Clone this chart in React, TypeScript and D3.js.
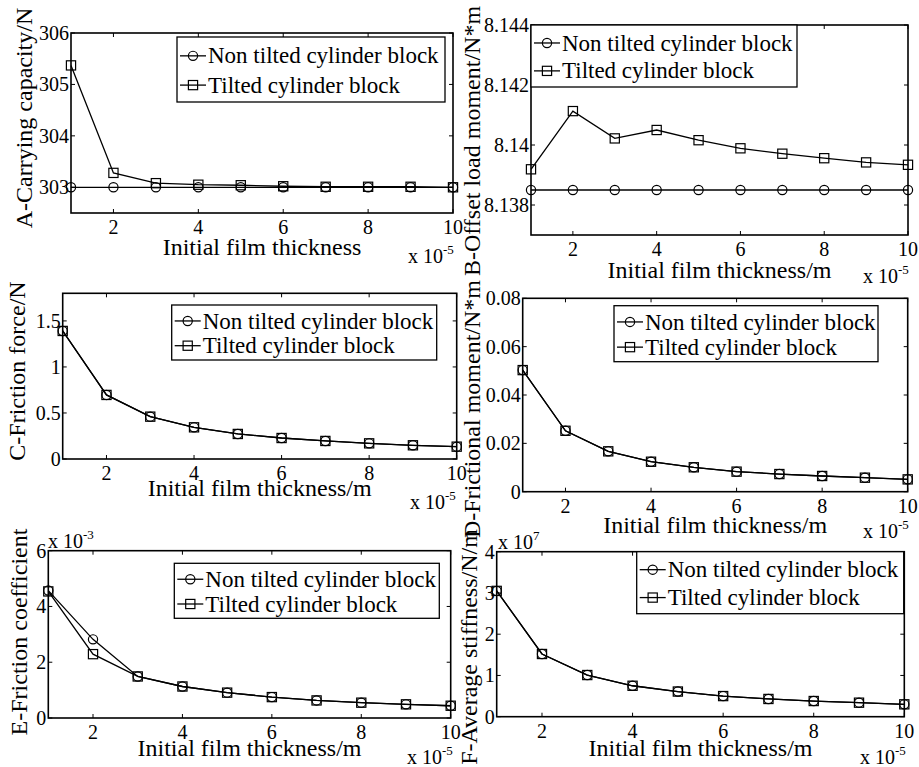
import React from "react";
import * as d3 from "d3";

// ---------- DATA ----------
const filmThickness = [1, 2, 3, 4, 5, 6, 7, 8, 9, 10]; // x 10^-5 m
const xTickValues = [2, 4, 6, 8, 10];
const xTickLabels = ["2", "4", "6", "8", "10"];
const seriesNames = ["Non tilted cylinder block", "Tilted cylinder block"];

const capacityNonTilted = [303.0, 303.0, 303.0, 303.0, 303.0, 303.0, 303.0, 303.0, 303.0, 303.0];
const capacityTilted = [305.37, 303.28, 303.08, 303.05, 303.04, 303.02, 303.01, 303.01, 303.01, 303.0];
const capacityTicks = [303, 304, 305, 306];
const capacityTickLabels = ["303", "304", "305", "306"];

const offsetNonTilted = [8.1385, 8.1385, 8.1385, 8.1385, 8.1385, 8.1385, 8.1385, 8.1385, 8.1385, 8.1385];
const offsetTilted = [8.13919, 8.14113, 8.14022, 8.1405, 8.14016, 8.13989, 8.13971, 8.13956, 8.13942, 8.13934];
const offsetTicks = [8.138, 8.14, 8.142, 8.144];
const offsetTickLabels = ["8.138", "8.14", "8.142", "8.144"];

const frictionNonTilted = [1.391, 0.696, 0.46, 0.344, 0.272, 0.228, 0.196, 0.17, 0.149, 0.134];
const frictionTilted = [1.391, 0.696, 0.46, 0.344, 0.272, 0.228, 0.196, 0.17, 0.149, 0.134];
const frictionTicks = [0, 0.5, 1, 1.5];
const frictionTickLabels = ["0", "0.5", "1", "1.5"];

const momentNonTilted = [0.0503, 0.0252, 0.0167, 0.0124, 0.0101, 0.0083, 0.0073, 0.0065, 0.0058, 0.0051];
const momentTilted = [0.0503, 0.0252, 0.0167, 0.0124, 0.0101, 0.0083, 0.0073, 0.0065, 0.0058, 0.0051];
const momentTicks = [0, 0.02, 0.04, 0.06, 0.08];
const momentTickLabels = ["0", "0.02", "0.04", "0.06", "0.08"];

const coefNonTilted = [4.57, 2.82, 1.49, 1.13, 0.91, 0.75, 0.63, 0.55, 0.49, 0.44]; // x 10^-3
const coefTilted = [4.54, 2.29, 1.49, 1.13, 0.91, 0.75, 0.63, 0.55, 0.49, 0.44];
const coefTicks = [0, 2, 4, 6];
const coefTickLabels = ["0", "2", "4", "6"];

const stiffNonTilted = [3.05, 1.52, 1.01, 0.75, 0.61, 0.5, 0.43, 0.38, 0.34, 0.3]; // x 10^7
const stiffTilted = [3.05, 1.52, 1.01, 0.75, 0.61, 0.5, 0.43, 0.38, 0.34, 0.3];
const stiffTicks = [0, 1, 2, 3, 4];
const stiffTickLabels = ["0", "1", "2", "3", "4"];

// ---------- STYLE ----------
const FONT = "Liberation Serif, Times New Roman, DejaVu Serif, serif";
const TICK_FS = 20;
const LABEL_FS = 24;
const LEGEND_FS = 23;

type PanelProps = {
  box: { l: number; t: number; r: number; b: number };
  yDomain: [number, number];
  yTicks: number[];
  yTickLabels: string[];
  s1: number[];
  s2: number[];
  legend: { x: number; y: number; w: number; h: number };
  yLabel: string;
  yLabelPos: { x: number; y: number };
  xLabel: string;
  xLabelBaseline: number;
  x10: { x: number; y: number };
  yMult?: { x: number; y: number; exp: string };
};

function Marker({ type, x, y }: { type: "circle" | "square"; x: number; y: number }) {
  if (type === "circle")
    return <circle cx={x} cy={y} r={4.6} fill="none" stroke="#000" strokeWidth={1.2} />;
  return <rect x={x - 4.6} y={y - 4.6} width={9.2} height={9.2} fill="none" stroke="#000" strokeWidth={1.2} />;
}

function Panel(p: PanelProps) {
  const { box } = p;
  const x = d3.scaleLinear().domain([1, 10]).range([box.l, box.r]);
  const y = d3.scaleLinear().domain(p.yDomain).range([box.b, box.t]);
  const line = d3
    .line<number>()
    .x((_, i) => x(filmThickness[i]))
    .y((d) => y(d));
  const tl = 4;
  const cx = (box.l + box.r) / 2;
  const lg = p.legend;
  const rows = [lg.y + lg.h * 0.29, lg.y + lg.h * 0.74];
  return (
    <g style={{ fontFamily: FONT }} fill="#000">
      {/* series */}
      <path d={line(p.s1) || ""} fill="none" stroke="#000" strokeWidth={1.3} />
      <path d={line(p.s2) || ""} fill="none" stroke="#000" strokeWidth={1.3} />
      {p.s1.map((v, i) => (
        <Marker key={"a" + i} type="circle" x={x(filmThickness[i])} y={y(v)} />
      ))}
      {p.s2.map((v, i) => (
        <Marker key={"b" + i} type="square" x={x(filmThickness[i])} y={y(v)} />
      ))}
      {/* box */}
      <rect x={box.l} y={box.t} width={box.r - box.l} height={box.b - box.t} fill="none" stroke="#000" strokeWidth={1.6} />
      {/* x ticks */}
      {xTickValues.map((v, i) => (
        <g key={"xt" + i}>
          <line x1={x(v)} x2={x(v)} y1={box.b} y2={box.b - tl} stroke="#000" strokeWidth={1} />
          <line x1={x(v)} x2={x(v)} y1={box.t} y2={box.t + tl} stroke="#000" strokeWidth={1} />
          <text x={x(v)} y={box.b + 21} textAnchor="middle" fontSize={TICK_FS}>
            {xTickLabels[i]}
          </text>
        </g>
      ))}
      {/* y ticks */}
      {p.yTicks.map((v, i) => (
        <g key={"yt" + i}>
          <line x1={box.l} x2={box.l + tl} y1={y(v)} y2={y(v)} stroke="#000" strokeWidth={1} />
          <line x1={box.r} x2={box.r - tl} y1={y(v)} y2={y(v)} stroke="#000" strokeWidth={1} />
          <text x={box.l - 2} y={y(v)} dy="0.35em" textAnchor="end" fontSize={TICK_FS}>
            {p.yTickLabels[i]}
          </text>
        </g>
      ))}
      {/* legend */}
      <rect x={lg.x} y={lg.y} width={lg.w} height={lg.h} fill="#fff" stroke="#000" strokeWidth={1.3} />
      {seriesNames.map((name, i) => (
        <g key={"lg" + i}>
          <line x1={lg.x + 3} x2={lg.x + 29} y1={rows[i]} y2={rows[i]} stroke="#000" strokeWidth={1.3} />
          <Marker type={i === 0 ? "circle" : "square"} x={lg.x + 16} y={rows[i]} />
          <text x={lg.x + 31} y={rows[i]} dy="0.33em" fontSize={LEGEND_FS}>
            {name}
          </text>
        </g>
      ))}
      {/* x label */}
      <text x={cx} y={p.xLabelBaseline} textAnchor="middle" fontSize={LABEL_FS}>
        {p.xLabel}
      </text>
      {/* x multiplier */}
      <text x={p.x10.x} y={p.x10.y} fontSize={TICK_FS}>
        x 10
        <tspan dy={-9} fontSize={13}>
          -5
        </tspan>
      </text>
      {p.yMult && (
        <text x={p.yMult.x} y={p.yMult.y} fontSize={TICK_FS}>
          x 10
          <tspan dy={-9} fontSize={13}>
            {p.yMult.exp}
          </tspan>
        </text>
      )}
      {/* y label */}
      <text
        transform={`translate(${p.yLabelPos.x},${p.yLabelPos.y}) rotate(-90)`}
        textAnchor="middle"
        dy="0.35em"
        fontSize={LABEL_FS}
      >
        {p.yLabel}
      </text>
    </g>
  );
}

export default function App() {
  return (
    <svg
      width={919}
      height={767}
      style={{ position: "absolute", left: 0, top: 0, background: "#fff", fontFamily: FONT }}
    >
      <rect x={0} y={0} width={919} height={767} fill="#fff" />
      <Panel
        box={{ l: 71, t: 33, r: 453, b: 213 }}
        yDomain={[302.5, 306]}
        yTicks={capacityTicks}
        yTickLabels={capacityTickLabels}
        s1={capacityNonTilted}
        s2={capacityTilted}
        legend={{ x: 177, y: 37, w: 268, h: 65 }}
        yLabel="A-Carrying capacity/N"
        yLabelPos={{ x: 24, y: 118 }}
        xLabel="Initial film thickness"
        xLabelBaseline={255}
        x10={{ x: 408, y: 263 }}
      />
      <Panel
        box={{ l: 62.7, t: 293.3, r: 456.7, b: 459 }}
        yDomain={[0, 1.8]}
        yTicks={frictionTicks}
        yTickLabels={frictionTickLabels}
        s1={frictionNonTilted}
        s2={frictionTilted}
        legend={{ x: 171.7, y: 305, w: 265, h: 55 }}
        yLabel="C-Friction force/N"
        yLabelPos={{ x: 17, y: 371 }}
        xLabel="Initial film thickness/m"
        xLabelBaseline={496}
        x10={{ x: 410, y: 509 }}
      />
      <Panel
        box={{ l: 48.3, t: 550.7, r: 450.7, b: 718 }}
        yDomain={[0, 6]}
        yTicks={coefTicks}
        yTickLabels={coefTickLabels}
        s1={coefNonTilted}
        s2={coefTilted}
        legend={{ x: 174.3, y: 563.3, w: 265, h: 55 }}
        yLabel="E-Friction coefficient"
        yLabelPos={{ x: 19, y: 632 }}
        xLabel="Initial film thickness/m"
        xLabelBaseline={756}
        x10={{ x: 407, y: 764 }}
        yMult={{ x: 48, y: 548, exp: "-3" }}
      />
      <Panel
        box={{ l: 531, t: 25, r: 908, b: 235 }}
        yDomain={[8.137, 8.144]}
        yTicks={offsetTicks}
        yTickLabels={offsetTickLabels}
        s1={offsetNonTilted}
        s2={offsetTilted}
        legend={{ x: 531, y: 25, w: 266, h: 62 }}
        yLabel="B-Offset load moment/N*m"
        yLabelPos={{ x: 472, y: 141 }}
        xLabel="Initial film thickness/m"
        xLabelBaseline={278}
        x10={{ x: 863, y: 283 }}
      />
      <Panel
        box={{ l: 522.7, t: 298.3, r: 907.7, b: 491.7 }}
        yDomain={[0, 0.08]}
        yTicks={momentTicks}
        yTickLabels={momentTickLabels}
        s1={momentNonTilted}
        s2={momentTilted}
        legend={{ x: 614, y: 305.7, w: 264, h: 56 }}
        yLabel="D-Frictional moment/N*m"
        yLabelPos={{ x: 472, y: 409 }}
        xLabel="Initial film thickness/m"
        xLabelBaseline={533}
        x10={{ x: 863, y: 538 }}
      />
      <Panel
        box={{ l: 496.7, t: 551.7, r: 904.3, b: 716.7 }}
        yDomain={[0, 4]}
        yTicks={stiffTicks}
        yTickLabels={stiffTickLabels}
        s1={stiffNonTilted}
        s2={stiffTilted}
        legend={{ x: 636.7, y: 551.7, w: 267, h: 62 }}
        yLabel="F-Average stiffness/N/m"
        yLabelPos={{ x: 469, y: 647 }}
        xLabel="Initial film thickness/m"
        xLabelBaseline={756}
        x10={{ x: 860, y: 764 }}
        yMult={{ x: 498, y: 549, exp: "7" }}
      />
    </svg>
  );
}
